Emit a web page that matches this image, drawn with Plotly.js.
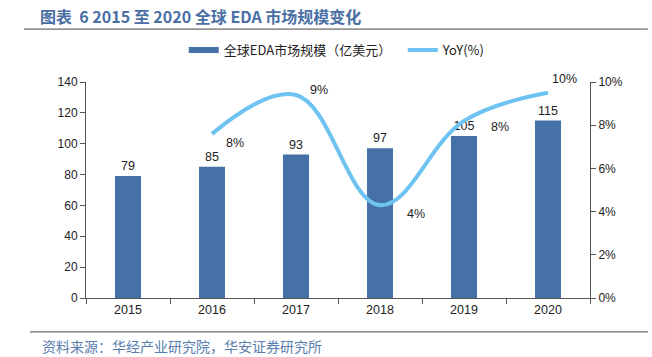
<!DOCTYPE html>
<html><head><meta charset="utf-8">
<script src="https://cdn.plot.ly/plotly-3.0.1.min.js"></script>
<style>html,body{margin:0;padding:0;background:#fff}</style>
</head><body><div id="chart" style="width:652px;height:357px"></div>
<script>
const years = ['2015','2016','2017','2018','2019','2020'];
const marketSize = [79, 85, 93, 97, 105, 115];
const yoyYears = ['2016','2017','2018','2019','2020'];
const yoy = [7.6, 9.4, 4.3, 8.2, 9.5];
const yoyLabels = ['8%','9%','4%','8%','10%'];

const fnt = 'Liberation Sans, Arial, sans-serif';
const cjk = 'Noto Sans CJK SC, sans-serif';
const blue = '#4671A6';
const light = '#6EC3F2';
const barName = '全球EDA市场规模（亿美元）';

const traces = [
  {type:'bar', x:years, y:marketSize, name:barName, showlegend:false,
   marker:{color:blue}, text:marketSize.map(String), textposition:'outside',
   textfont:{family:fnt,size:12.5,color:'#222'}, cliponaxis:false, yaxis:'y'},
  {type:'scatter', mode:'lines', x:[null], y:[null], name:barName, yaxis:'y',
   line:{color:blue,width:6}},
  {type:'scatter', mode:'lines', x:yoyYears, y:yoy, name:'YoY(%)', yaxis:'y2',
   line:{color:light,width:4,shape:'spline',smoothing:1.1}}
];

const xshift = [23, 23, 36, 36, 16];
const yshift = [-9, 5, -9, -6, 14];
const annotations = yoyYears.map((x,i)=>({x:years.indexOf(x), y:yoy[i], xref:'x', yref:'y2', text:yoyLabels[i],
  showarrow:false, xshift:xshift[i], yshift:yshift[i], font:{family:fnt,size:12.5,color:'#222'}}));
annotations.push({xref:'paper', yref:'paper', x:-0.091, y:-0.222, xanchor:'left', yanchor:'middle',
  text:'资料来源：华经产业研究院，华安证券研究所', showarrow:false,
  font:{family:cjk,size:14,color:'#5A7DB0'}});

const layout = {
  width:652, height:357,
  margin:{l:86, r:62, t:82, b:59},
  paper_bgcolor:'#fff', plot_bgcolor:'#fff',
  title:{text:'<b>图表  6 2015 至 2020 全球 EDA 市场规模变化</b>', xref:'container', yref:'container',
    x:40/652, xanchor:'left', y:1-17/357, yanchor:'middle', font:{family:cjk,size:16,color:'#4A6FA5'}},
  bargap:0.69,
  showlegend:true,
  legend:{orientation:'h', x:0.194, xanchor:'left', y:1.148, yanchor:'middle',
    font:{family:cjk,size:13,color:'#222'}, itemwidth:30, traceorder:'normal',
    entrywidth:174, entrywidthmode:'pixels'},
  xaxis:{type:'category', range:[-0.5,5.5], showline:true, linecolor:'#555', linewidth:1, ticks:'outside', tickson:'boundaries',
    ticklen:5, tickcolor:'#555', tickfont:{family:fnt,size:12.5,color:'#222'}, showgrid:false, tickangle:0},
  yaxis:{range:[0,140], dtick:20, showline:true, linecolor:'#555', ticks:'outside', ticklen:5, tickcolor:'#555',
    showgrid:false, zeroline:false, tickfont:{family:fnt,size:12,color:'#222'}},
  yaxis2:{range:[0,10], dtick:2, overlaying:'y', side:'right', showline:true, linecolor:'#555', ticks:'outside',
    ticklen:5, tickcolor:'#555', ticksuffix:'%', showgrid:false, zeroline:false,
    tickfont:{family:fnt,size:12,color:'#222'}},
  annotations:annotations,
  shapes:[
    {type:'line', xref:'paper', yref:'paper', x0:-0.123, x1:1.115, y0:1.245, y1:1.245, line:{color:'#444',width:1}},
    {type:'line', xref:'paper', yref:'paper', x0:-0.111, x1:1.115, y0:-0.157, y1:-0.157, line:{color:'#444',width:1}}
  ]
};
Plotly.newPlot('chart', traces, layout, {displayModeBar:false, staticPlot:true});
</script></body></html>
